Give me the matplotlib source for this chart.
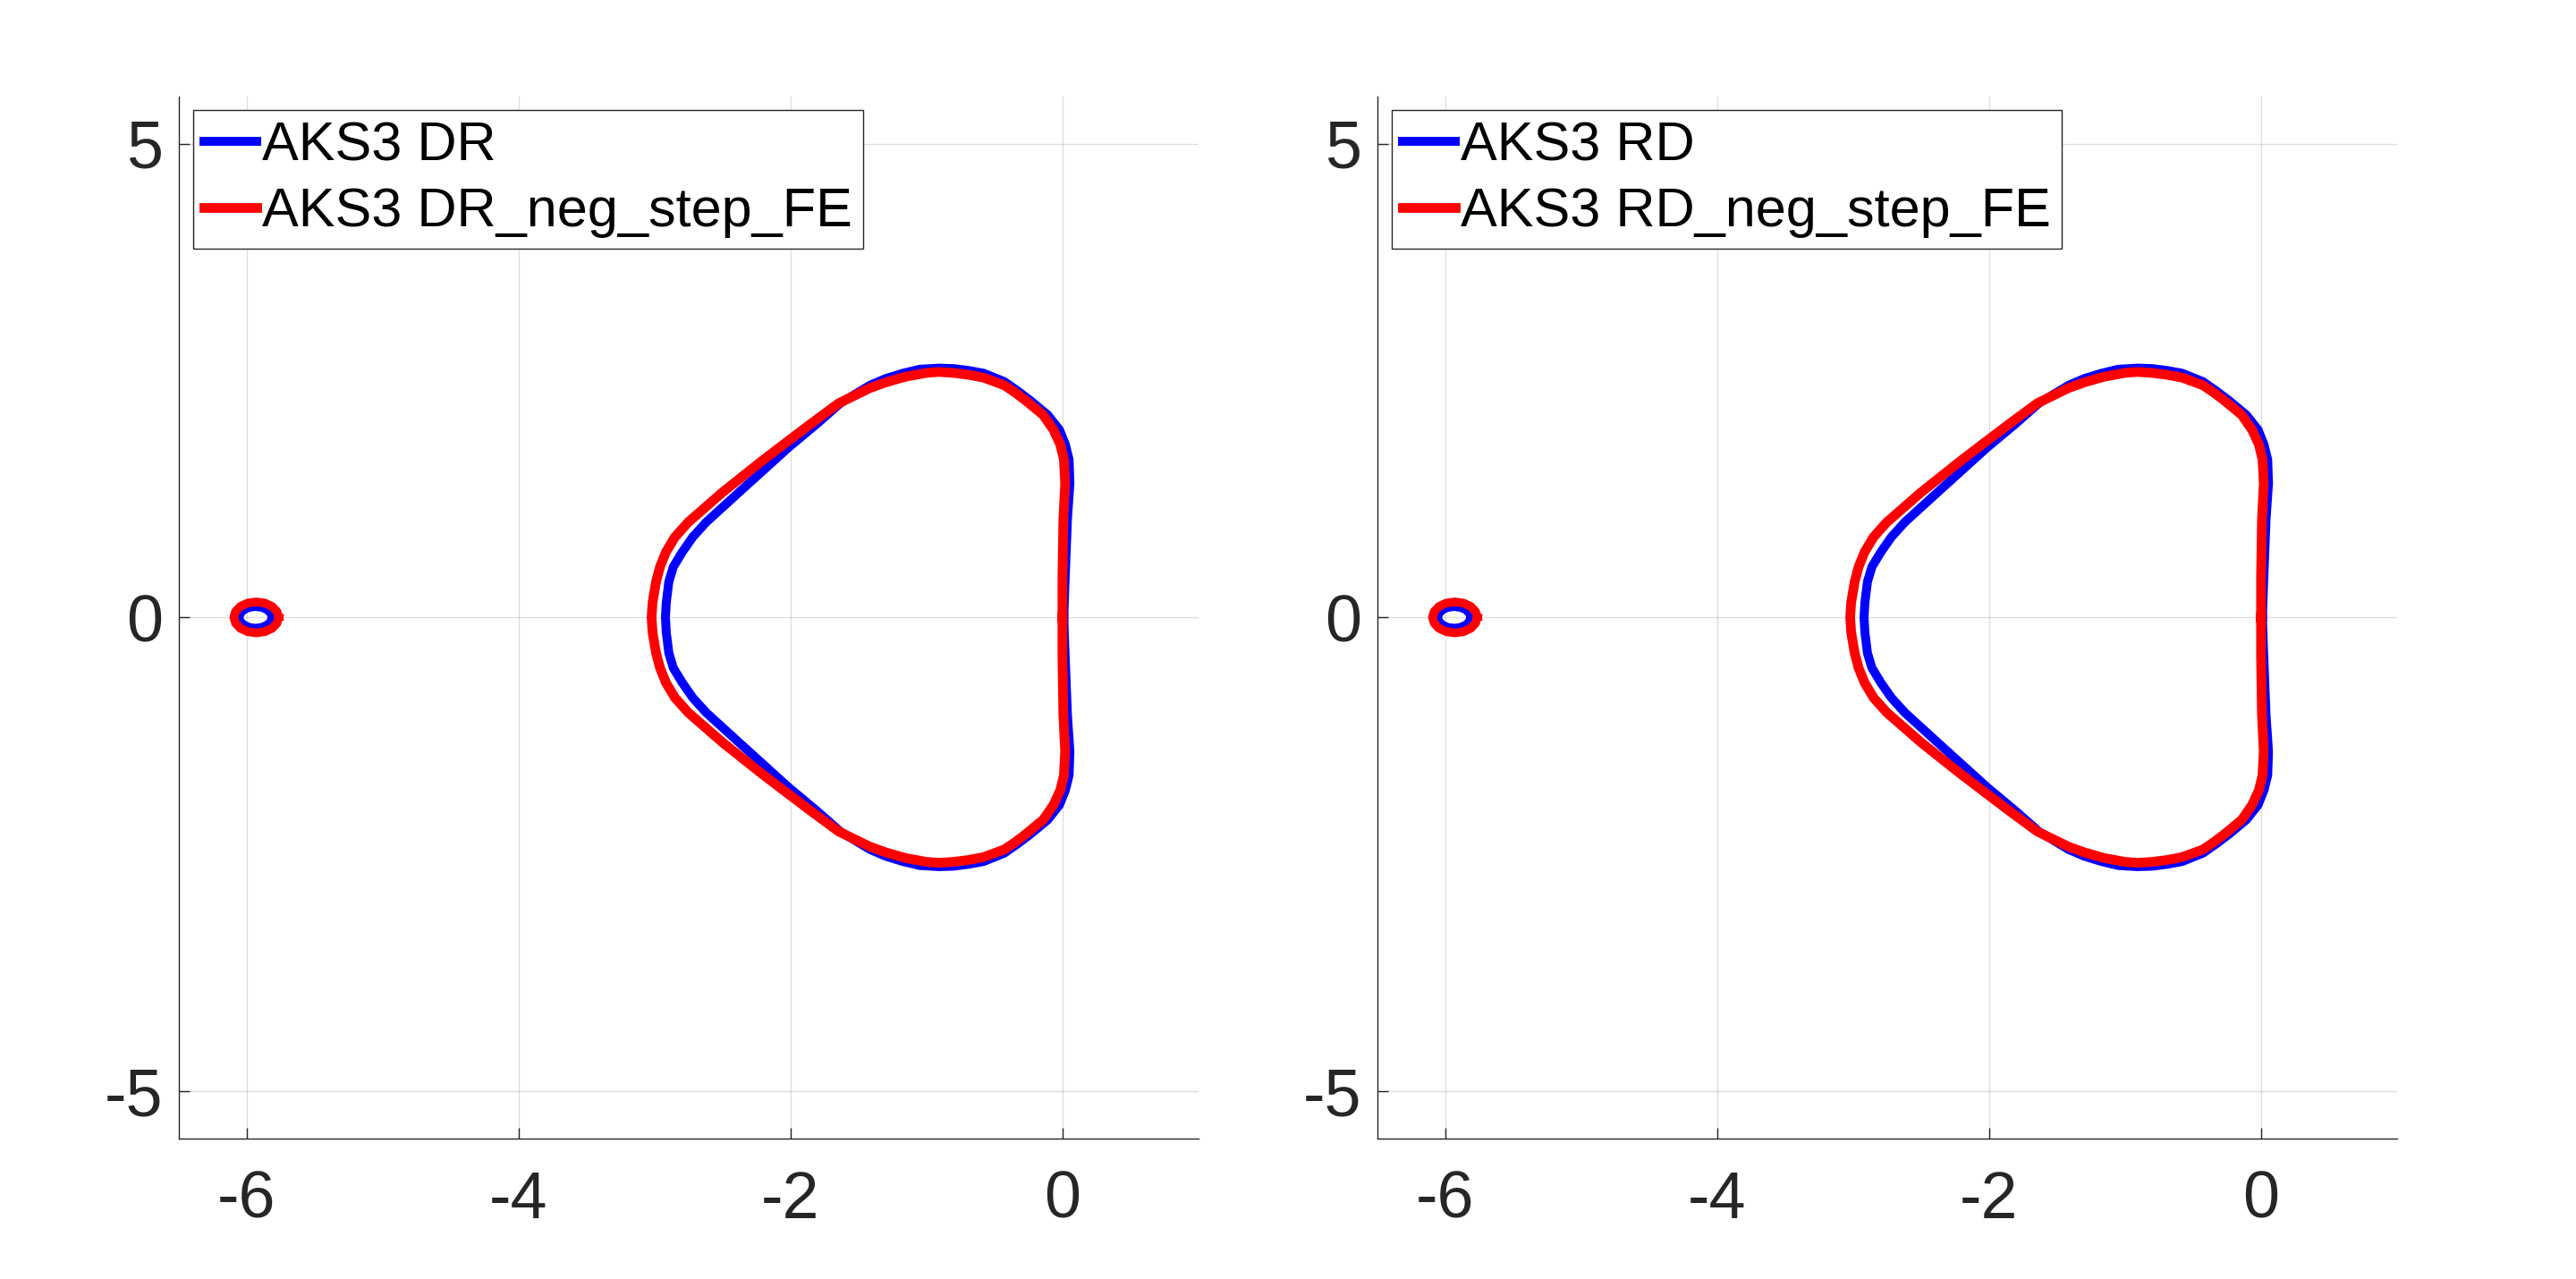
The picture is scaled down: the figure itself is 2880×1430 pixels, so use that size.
import numpy as np
import matplotlib
matplotlib.use('Agg')
import matplotlib.pyplot as plt

# boundary of the main stability region, blue curve
# upper half, from the right crossing of the real axis round to the left nose
blue_up_x = [0.01, 0.02, 0.037, 0.055, 0.049, 0.022, -0.022, -0.109, -0.24, -0.33, -0.428, -0.58, -0.69,
             -0.80, -0.91, -1.05, -1.173, -1.30, -1.414, -1.634, -1.808, -2.017, -2.138, -2.379, -2.62,
             -2.719, -2.796, -2.862, -2.895, -2.914, -2.92]
blue_up_y = [0.0, 0.41, 1.037, 1.414, 1.665, 1.822, 1.98, 2.137, 2.293, 2.39, 2.488, 2.576, 2.605,
             2.625, 2.63, 2.618, 2.576, 2.52, 2.45, 2.26, 2.04, 1.79, 1.633, 1.32, 1.005,
             0.848, 0.69, 0.534, 0.377, 0.157, 0.0]
# lower half, from the nose back to the right
blue_lo_x = [-2.914, -2.895, -2.862, -2.796, -2.719, -2.62, -2.379, -2.138, -2.017, -1.808, -1.634,
             -1.414, -1.30, -1.173, -1.05, -0.91, -0.80, -0.69, -0.58, -0.428, -0.33, -0.24, -0.109,
             -0.022, 0.022, 0.049, 0.055, 0.037, 0.02, 0.01]
blue_lo_y = [-0.157, -0.377, -0.534, -0.69, -0.848, -1.005, -1.32, -1.633, -1.79, -2.04, -2.26,
             -2.45, -2.52, -2.576, -2.618, -2.63, -2.625, -2.605, -2.576, -2.488, -2.39, -2.293, -2.137,
             -1.98, -1.822, -1.665, -1.414, -1.037, -0.41, 0.0]

# red curve (neg_step_FE)
red_up_x = [0.0, 0.0, 0.007, 0.02, 0.011, -0.015, -0.066, -0.142, -0.274, -0.35, -0.428, -0.58, -0.69,
            -0.80, -0.91, -1.0, -1.153, -1.30, -1.416, -1.645, -1.853, -2.083, -2.226, -2.5, -2.752,
            -2.85, -2.916, -2.96, -2.989, -3.015, -3.022]
red_up_y = [0.0, 0.41, 1.037, 1.414, 1.665, 1.822, 1.98, 2.137, 2.293, 2.375, 2.45, 2.53, 2.56,
            2.58, 2.59, 2.58, 2.54, 2.48, 2.42, 2.26, 2.04, 1.79, 1.633, 1.32, 1.005,
            0.848, 0.69, 0.534, 0.377, 0.157, 0.0]
red_lo_x = [-3.015, -2.989, -2.96, -2.916, -2.85, -2.752, -2.5, -2.226, -2.083, -1.853, -1.645,
            -1.416, -1.30, -1.153, -1.0, -0.91, -0.80, -0.69, -0.58, -0.428, -0.35, -0.274, -0.142,
            -0.066, -0.015, 0.011, 0.02, 0.007, 0.0, 0.0]
red_lo_y = [-0.157, -0.377, -0.534, -0.69, -0.848, -1.005, -1.32, -1.633, -1.79, -2.04, -2.26,
            -2.42, -2.48, -2.54, -2.58, -2.59, -2.58, -2.56, -2.53, -2.45, -2.375, -2.293, -2.137,
            -1.98, -1.822, -1.665, -1.414, -1.037, -0.41, 0.0]

# small islands near -5.9
blue_isl_x = [-5.82, -5.829, -5.854, -5.891, -5.935, -5.979, -6.016, -6.041, -6.05,
              -6.041, -6.016, -5.979, -5.935, -5.891, -5.854, -5.829, -5.82]
blue_isl_y = [0, 0.040, 0.074, 0.097, 0.105, 0.097, 0.074, 0.040, 0,
              -0.040, -0.074, -0.097, -0.105, -0.097, -0.074, -0.040, 0]
red_isl_x = [-5.765, -5.778, -5.813, -5.867, -5.93, -5.993, -6.047, -6.082, -6.095,
             -6.082, -6.047, -5.993, -5.93, -5.867, -5.813, -5.778, -5.765]
red_isl_y = [0, 0.062, 0.115, 0.151, 0.163, 0.151, 0.115, 0.062, 0,
             -0.062, -0.115, -0.151, -0.163, -0.151, -0.115, -0.062, 0]

labels_left = ['AKS3 DR', 'AKS3 DR_neg_step_FE']
labels_right = ['AKS3 RD', 'AKS3 RD_neg_step_FE']
xticks = [-6, -4, -2, 0]
yticks = [-5, 0, 5]

blue_x = blue_up_x + blue_lo_x
blue_y = blue_up_y + blue_lo_y
red_x = red_up_x + red_lo_x
red_y = red_up_y + red_lo_y

plt.rcParams['font.family'] = ['Liberation Sans', 'DejaVu Sans']
plt.rcParams['axes.unicode_minus'] = False

dark = (0.15, 0.15, 0.15)
fig = plt.figure(figsize=(14.4, 7.15), dpi=200)
ax1 = fig.add_axes([0.0694, 0.1098, 0.3958, 0.815])
ax2 = fig.add_axes([0.5347, 0.1098, 0.3958, 0.815])

for ax, labs in [(ax1, labels_left), (ax2, labels_right)]:
    ax.plot(blue_x, blue_y, color='blue', lw=3.6, solid_joinstyle='round', label=labs[0], zorder=3)
    ax.plot(blue_isl_x, blue_isl_y, color='blue', lw=2.8, solid_joinstyle='round', zorder=3)
    ax.plot(red_x, red_y, color='red', lw=3.9, solid_joinstyle='round', label=labs[1], zorder=4)
    ax.plot(red_isl_x, red_isl_y, color='red', lw=3.5, solid_joinstyle='round', zorder=4)
    ax.set_xlim(-6.5, 1)
    ax.set_ylim(-5.5, 5.5)
    ax.set_xticks(xticks)
    ax.set_yticks(yticks)
    ax.grid(True, color=dark, alpha=0.15, lw=0.5)
    ax.set_axisbelow(True)
    for s in ['top', 'right']:
        ax.spines[s].set_visible(False)
    for s in ['left', 'bottom']:
        ax.spines[s].set_color(dark)
        ax.spines[s].set_linewidth(0.5)
    ax.tick_params(direction='in', length=4.3, width=0.5, color=dark, labelcolor=dark, labelsize=26.5)
    ax.tick_params(axis='x', pad=12.6)
    ax.tick_params(axis='y', pad=6.5)
    leg = ax.legend(loc='upper left', fontsize=22, fancybox=False, framealpha=1, edgecolor=dark,
                    handlelength=0.96, handletextpad=0.1, borderpad=0.2, labelspacing=0.27,
                    borderaxespad=0.26)
    leg.get_frame().set_linewidth(0.5)

fig.savefig('out.png', dpi=200, facecolor='white')
